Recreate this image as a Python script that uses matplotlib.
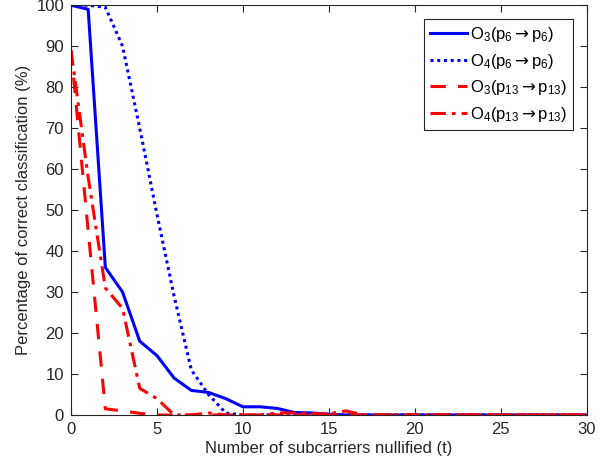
import numpy as np
import matplotlib
matplotlib.use("Agg")
import matplotlib.pyplot as plt

plt.rcParams['font.family'] = ['Liberation Sans', 'DejaVu Sans']
plt.rcParams['mathtext.fontset'] = 'custom'
plt.rcParams['mathtext.rm'] = 'Liberation Sans'
plt.rcParams['mathtext.it'] = 'Liberation Sans'
plt.rcParams['mathtext.sf'] = 'DejaVu Sans'

# number of nullified subcarriers
t = np.arange(0, 31)

o3_p6 = [100, 99, 36, 30, 18, 14.5, 9, 6, 5.5, 4, 2, 2, 1.6, 0.6, 0.5, 0.2,
         0, 0, 0, 0, 0, 0, 0, 0, 0, 0, 0, 0, 0, 0, 0]
o4_p6 = [100, 100, 99.5, 90, 70, 49, 29, 11, 5, 0.5, 0, 0, 0, 0, 0, 0,
         0, 0, 0, 0, 0, 0, 0, 0, 0, 0, 0, 0, 0, 0, 0]
o3_p13 = [89, 45, 1.5, 1, 0.4, 0, 0, 0, 0, 0, 0, 0, 0, 0, 0, 0,
          0, 0, 0, 0, 0, 0, 0, 0, 0, 0, 0, 0, 0, 0, 0]
o4_p13 = [89, 58, 31, 26, 6.5, 4, 0, 0, 0.5, 0, 0, 0, 0.5, 0.5, 0.3, 0.3,
          1, 0, 0, 0, 0, 0, 0, 0, 0, 0, 0, 0, 0, 0, 0]

labels = [r'O$_3$(p$_6\mathsf{\rightarrow}$p$_6$)',
          r'O$_4$(p$_6\mathsf{\rightarrow}$p$_6$)',
          r'O$_3$(p$_{13}\mathsf{\rightarrow}$p$_{13}$)',
          r'O$_4$(p$_{13}\mathsf{\rightarrow}$p$_{13}$)']

fig = plt.figure(figsize=(6.15, 4.74), dpi=100)
ax = fig.add_axes([0.1154, 0.1245, 0.8386, 0.8645])

ax.plot(t, o3_p6, color='#0000ff', lw=2.2, ls='-', label=labels[0])
ax.plot(t, o4_p6, color='#0000ff', lw=2.2, ls=(0, (1, 1.2)), label=labels[1])
ax.plot(t, o3_p13, color='#ff0000', lw=2.2, ls=(0, (5, 4)), label=labels[2])
ax.plot(t, o4_p13, color='#ff0000', lw=2.2, ls=(0, (5, 2, 1.2, 2)), label=labels[3])

ax.set_xlim(0, 30)
ax.set_ylim(0, 100)
ax.set_xticks(np.arange(0, 31, 5))
ax.set_yticks(np.arange(0, 101, 10))
ax.tick_params(direction='in', top=True, right=True, labelsize=12,
               colors='#262626', length=5, width=0.8, pad=5)
for s in ax.spines.values():
    s.set_color('#262626')
    s.set_linewidth(0.8)

ax.set_xlabel('Number of subcarriers nullified (t)', fontsize=12, color='#262626',
              labelpad=3)
ax.set_ylabel('Percentage of correct classification (%)', fontsize=12,
              color='#262626', labelpad=4)

leg = ax.legend(loc='upper right', bbox_to_anchor=(1, 1), fontsize=12,
                fancybox=False, framealpha=1, edgecolor='#262626',
                handlelength=2.2, handletextpad=0.15, labelspacing=0.45,
                borderpad=0.4, borderaxespad=0.8)
leg.get_frame().set_linewidth(0.8)

fig.savefig('out.png', dpi=100)
